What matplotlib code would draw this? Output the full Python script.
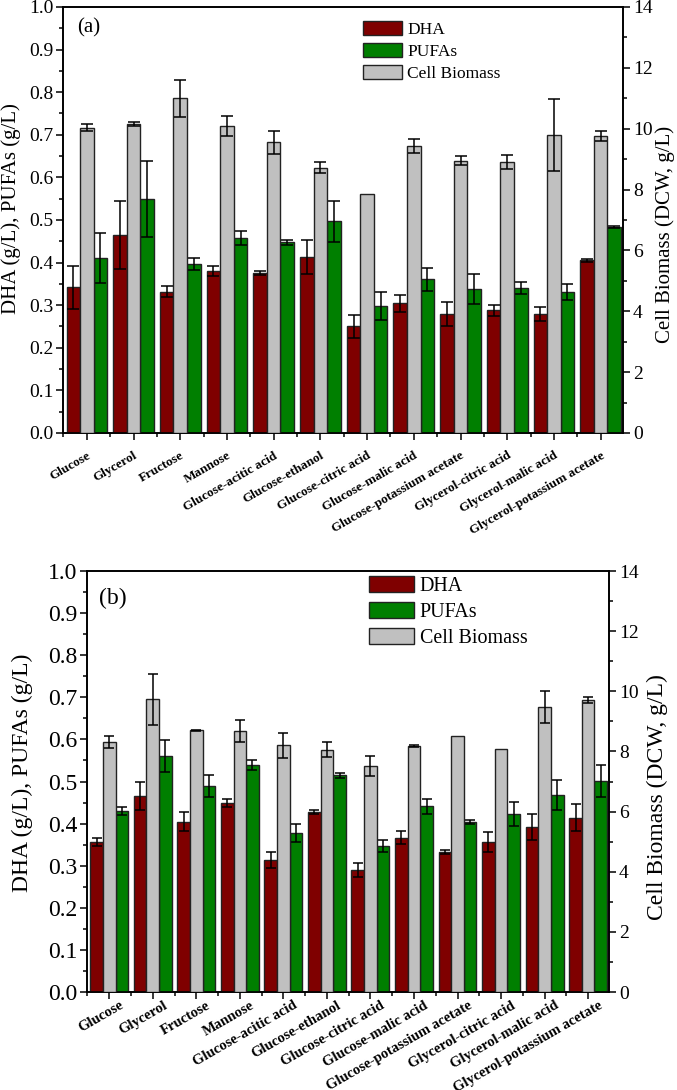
import matplotlib
matplotlib.use('Agg')
import matplotlib.pyplot as plt
import numpy as np
from matplotlib.ticker import MultipleLocator, FixedLocator
from matplotlib.patches import Patch
from matplotlib.transforms import ScaledTranslation

plt.rcParams['font.family'] = ['Liberation Serif', 'DejaVu Serif']

categories = ['Glucose', 'Glycerol', 'Fructose', 'Mannose', 'Glucose-acitic acid',
              'Glucose-ethanol', 'Glucose-citric acid', 'Glucose-malic acid',
              'Glucose-potassium acetate', 'Glycerol-citric acid',
              'Glycerol-malic acid', 'Glycerol-potassium acetate']

# Panel (a)
a_dha = [0.342, 0.465, 0.332, 0.381, 0.375, 0.413, 0.250, 0.304, 0.279, 0.288, 0.279, 0.405]
a_dha_err = [0.050, 0.079, 0.012, 0.012, 0.005, 0.041, 0.028, 0.021, 0.029, 0.0125, 0.016, 0.003]
a_pufa = [0.411, 0.550, 0.397, 0.457, 0.448, 0.497, 0.298, 0.361, 0.337, 0.341, 0.331, 0.483]
a_pufa_err = [0.059, 0.089, 0.014, 0.016, 0.006, 0.048, 0.033, 0.027, 0.035, 0.014, 0.019, 0.003]
a_bio = [10.03, 10.15, 11.0, 10.09, 9.55, 8.72, 7.85, 9.43, 8.95, 8.90, 9.80, 9.77]
a_bio_err = [0.12, 0.06, 0.60, 0.32, 0.37, 0.19, np.nan, 0.24, 0.16, 0.22, 1.18, 0.17]

# Panel (b)
b_dha = [0.356, 0.466, 0.405, 0.448, 0.313, 0.427, 0.290, 0.367, 0.333, 0.356, 0.392, 0.414]
b_dha_err = [0.009, 0.034, 0.023, 0.0095, 0.019, 0.005, 0.016, 0.015, 0.004, 0.024, 0.031, 0.032]
b_pufa = [0.430, 0.561, 0.489, 0.539, 0.378, 0.515, 0.347, 0.441, 0.404, 0.423, 0.468, 0.502]
b_pufa_err = [0.010, 0.038, 0.026, 0.011, 0.022, 0.006, 0.015, 0.017, 0.0055, 0.028, 0.036, 0.038]
b_bio = [8.31, 9.73, 8.71, 8.68, 8.21, 8.05, 7.53, 8.18, 8.51, 8.08, 9.47, 9.71]
b_bio_err = [0.20, 0.85, 0.02, 0.37, 0.42, 0.25, 0.33, 0.03, np.nan, np.nan, 0.53, 0.10]

series_names = ['DHA', 'PUFAs', 'Cell Biomass']
colors = {'DHA': '#7f0000', 'PUFAs': '#007f00', 'Cell Biomass': '#c0c0c0'}
EDGE = '#222222'

fig = plt.figure(figsize=(6.77, 10.90), dpi=100)


def panel(rect, dha, dha_err, pufa, pufa_err, bio, bio_err, cfg):
    ax = fig.add_axes(rect)
    ax2 = ax.twinx()
    x = np.arange(len(categories))
    w = 0.29
    ekw = dict(fmt='none', ecolor='black', elinewidth=1.1, capsize=cfg['cap'], capthick=1.1, zorder=5)
    ax.bar(x - w, dha, w, color=colors['DHA'], edgecolor=EDGE, linewidth=1.0, zorder=3)
    ax.bar(x + w, pufa, w, color=colors['PUFAs'], edgecolor=EDGE, linewidth=1.0, zorder=3)
    ax.errorbar(x - w, dha, yerr=dha_err, **ekw)
    ax.errorbar(x + w, pufa, yerr=pufa_err, **ekw)
    ax2.bar(x, bio, w, color=colors['Cell Biomass'], edgecolor=EDGE, linewidth=1.0, zorder=3)
    ax2.errorbar(x, bio, yerr=bio_err, **ekw)

    ax.set_xlim(-0.51, 11.48)
    ax.set_ylim(0, 1.0)
    ax2.set_ylim(0, 14)
    ax.yaxis.set_major_locator(MultipleLocator(0.1))
    ax.yaxis.set_minor_locator(MultipleLocator(0.05))
    ax2.yaxis.set_major_locator(MultipleLocator(2))
    ax2.yaxis.set_minor_locator(MultipleLocator(1))
    ax.set_yticklabels([f'{v:.1f}' for v in ax.get_yticks()])
    ax.set_xticks(x)
    ax.xaxis.set_minor_locator(FixedLocator(np.arange(-0.5, 12, 1.0)))
    ax.set_xticklabels(categories, rotation=30, ha='right', va='top',
                       rotation_mode='anchor', fontweight='bold', fontsize=cfg['xfs'])

    for a in (ax, ax2):
        for s in a.spines.values():
            s.set_linewidth(1.2)
    ax.tick_params(axis='both', which='major', direction='out', length=5, width=1.1)
    ax.tick_params(axis='both', which='minor', direction='out', length=3, width=1.1)
    ax.tick_params(axis='y', labelsize=cfg['lfs'], pad=2)
    ax.tick_params(axis='x', pad=cfg['xpad'])
    ax.tick_params(axis='x', which='minor', length=3)
    ax2.tick_params(axis='y', which='major', direction='out', length=5, width=1.1,
                    labelsize=cfg['rfs'], pad=2)
    ax2.tick_params(axis='y', which='minor', direction='out', length=3, width=1.1)

    off = ScaledTranslation(cfg['xdx'] / 100.0, 0, fig.dpi_scale_trans)
    for lab in ax.get_xticklabels():
        lab.set_transform(lab.get_transform() + off)

    ax.set_ylabel('DHA (g/L), PUFAs (g/L)', fontsize=cfg['ylfs'])
    ax.yaxis.set_label_coords(cfg['ylx'], cfg['yly'])
    ax2.set_ylabel('Cell Biomass (DCW, g/L)', fontsize=cfg['ylfs'], rotation=90)
    ax2.yaxis.set_label_coords(cfg['yrx'], cfg['yry'])

    ax.text(cfg['tagx'], cfg['tagy'], cfg['tag'], transform=ax.transAxes,
            fontsize=cfg['tagfs'], ha='left', va='center')

    handles = [Patch(facecolor=colors[n], edgecolor=EDGE, linewidth=1.0) for n in series_names]
    ax2.legend(handles, series_names, loc='upper left', bbox_to_anchor=cfg['leg'],
               frameon=False, fontsize=cfg['legfs'], handlelength=2.25,
               handleheight=0.85, handletextpad=0.3, labelspacing=0.3,
               borderpad=0, borderaxespad=0)
    return ax, ax2


cfg_a = dict(cap=4.5, xfs=9.5, xpad=7, xdx=0, lfs=14, rfs=14, ylfs=15,
             ylx=-0.075, yly=0.526, yrx=1.057, yry=0.465,
             tag='(a)', tagx=0.025, tagy=0.951, tagfs=15,
             leg=(0.536, 0.967), legfs=12.5)
cfg_b = dict(cap=3.8, xfs=10.5, xpad=0, xdx=10, lfs=17, rfs=14, ylfs=17,
             ylx=-0.103, yly=0.52, yrx=1.073, yry=0.463,
             tag='(b)', tagx=0.023, tagy=0.936, tagfs=17,
             leg=(0.540, 0.988), legfs=14.4)

panel([0.0931, 0.6028, 0.8272, 0.3908], a_dha, a_dha_err, a_pufa, a_pufa_err,
      a_bio, a_bio_err, cfg_a)
panel([0.1285, 0.0899, 0.7711, 0.3862], b_dha, b_dha_err, b_pufa, b_pufa_err,
      b_bio, b_bio_err, cfg_b)

fig.savefig('out.png', dpi=100)
